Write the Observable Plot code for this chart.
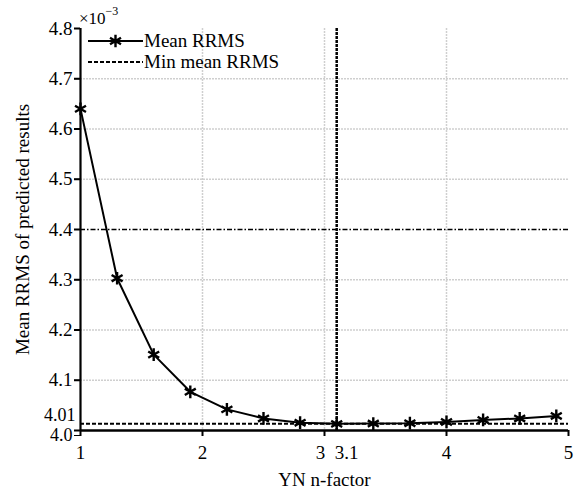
<!DOCTYPE html>
<html>
<head>
<meta charset="utf-8">
<script src="https://cdn.jsdelivr.net/npm/d3@7"></script>
<script src="https://cdn.jsdelivr.net/npm/@observablehq/plot@0.6"></script>
<style>
  html, body { margin: 0; padding: 0; background: white; }
</style>
</head>
<body>
<div id="chart"></div>
<script>
// ---- data ----
const nFactor = [1.0, 1.3, 1.6, 1.9, 2.2, 2.5, 2.8, 3.1, 3.4, 3.7, 4.0, 4.3, 4.6, 4.9];
const meanRRMS = [4.640, 4.303, 4.151, 4.077, 4.042, 4.024, 4.0155, 4.0132, 4.0138, 4.0145, 4.017, 4.021, 4.024, 4.029];
const xTicks = [1, 2, 3, 4, 5];
const xTickLabels = ["1", "2", "3", "4", "5"];
const yTicks = [4.0, 4.1, 4.2, 4.3, 4.4, 4.5, 4.6, 4.7, 4.8];
const yTickLabels = ["4.0", "4.1", "4.2", "4.3", "4.4", "4.5", "4.6", "4.7", "4.8"];
const xGrid = [2, 3, 4];
const yGrid = [4.1, 4.2, 4.3, 4.5, 4.6, 4.7];
const refLineY = [4.4];
const seriesNames = ["Mean RRMS", "Min mean RRMS"];
const xLabel = "YN n-factor";
const yLabel = "Mean RRMS of predicted results";

const data = nFactor.map((x, i) => ({x, y: meanRRMS[i]}));
const minVal = d3.min(meanRRMS);
const minX = nFactor[d3.minIndex(meanRRMS)];
const minLabel = minVal.toFixed(2);
const minXLabel = String(minX);

const font = "'Liberation Serif', 'Times New Roman', serif";
const mainXTicks = xTicks.filter(v => v !== 3);
const mainYTicks = yTicks.filter(v => v !== 4.0);

const chart = Plot.plot({
  width: 575,
  height: 491,
  marginLeft: 80,
  marginRight: 7,
  marginTop: 28,
  marginBottom: 61,
  style: {fontFamily: font, fontSize: "18px", color: "black", background: "white"},
  x: {domain: [1, 5], axis: null},
  y: {domain: [4.0, 4.8], axis: null},
  marks: [
    Plot.gridX(xGrid, {stroke: "#cfcfcf", strokeOpacity: 1, strokeWidth: 1.5, strokeDasharray: "2,1"}),
    Plot.gridY(yGrid, {stroke: "#cfcfcf", strokeOpacity: 1, strokeWidth: 1.5, strokeDasharray: "2,1"}),
    Plot.ruleY(refLineY, {stroke: "black", strokeWidth: 1.6, strokeDasharray: "5,2,1.5,2"}),
    Plot.ruleY([minVal], {stroke: "black", strokeWidth: 2, strokeDasharray: "4,2"}),
    Plot.ruleX([minX], {stroke: "black", strokeWidth: 2.5, strokeDasharray: "3,1"}),
    Plot.ruleX([1], {stroke: "black", strokeWidth: 2.2}),
    Plot.ruleY([4.0], {stroke: "black", strokeWidth: 2.5}),
    Plot.line(data, {x: "x", y: "y", stroke: "black", strokeWidth: 2}),
    Plot.dot(data, {x: "x", y: "y", symbol: "asterisk", r: 6, stroke: "black", strokeWidth: 2.4}),
    // x ticks
    Plot.axisX(xTicks, {tickSize: 6, strokeWidth: 2, tickFormat: () => "", label: null}),
    Plot.axisX(mainXTicks, {tickSize: 6, tickPadding: 9, fontSize: 19, label: null,
      tickFormat: d => xTickLabels[xTicks.indexOf(d)]}),
    Plot.axisX([3], {tickSize: 6, tickPadding: 9, fontSize: 19, label: null, dx: -4,
      tickFormat: d => xTickLabels[xTicks.indexOf(d)], stroke: "none"}),
    Plot.axisX([minX], {tickSize: 0, tickPadding: 15, fontSize: 19, label: null, dx: 10,
      tickFormat: () => minXLabel}),
    // y ticks
    Plot.axisY(yTicks, {tickSize: 6, strokeWidth: 2, tickFormat: () => "", label: null}),
    Plot.axisY(mainYTicks, {tickSize: 6, tickPadding: 2, fontSize: 19, label: null,
      tickFormat: d => yTickLabels[yTicks.indexOf(d)]}),
    Plot.axisY([4.0], {tickSize: 6, tickPadding: 2, fontSize: 18, label: null, dy: 5,
      tickFormat: d => yTickLabels[yTicks.indexOf(d)]}),
    Plot.axisY([minVal], {tickSize: 0, tickPadding: 5, fontSize: 18, label: null, dy: -9,
      tickFormat: () => minLabel}),
    // axis titles
    Plot.text([xLabel], {text: d => d, frameAnchor: "bottom", textAnchor: "middle", dy: 55, fontSize: 19}),
    Plot.text([yLabel], {text: d => d, frameAnchor: "left", textAnchor: "middle", rotate: -90, dx: -58, fontSize: 19})
  ]
});

document.getElementById("chart").appendChild(chart);

// legend + exponent (pixel-space annotation)
const svg = d3.select(chart);
const g = svg.append("g").attr("font-family", font).attr("fill", "black").attr("text-anchor", "start");
const exp = g.append("text").attr("x", 79).attr("y", 24).attr("font-size", 17);
exp.append("tspan").text("×10");
exp.append("tspan").attr("font-size", 12).attr("dy", -9).text("−3");

const lx0 = 88, lx1 = 143;
g.append("line").attr("x1", lx0).attr("x2", lx1).attr("y1", 41).attr("y2", 41)
  .attr("stroke", "black").attr("stroke-width", 2);
g.append("path").attr("d", d3.symbol(d3.symbolAsterisk, 6 * 6 * Math.PI)())
  .attr("transform", `translate(${(lx0 + lx1) / 2},41)`)
  .attr("fill", "none").attr("stroke", "black").attr("stroke-width", 2.4);
g.append("text").attr("x", lx1 + 1).attr("y", 47).attr("font-size", 19).text(seriesNames[0]);
g.append("line").attr("x1", lx0).attr("x2", lx1).attr("y1", 62).attr("y2", 62)
  .attr("stroke", "black").attr("stroke-width", 2).attr("stroke-dasharray", "4,2");
g.append("text").attr("x", lx1 + 1).attr("y", 68).attr("font-size", 19).text(seriesNames[1]);
</script>
</body>
</html>
